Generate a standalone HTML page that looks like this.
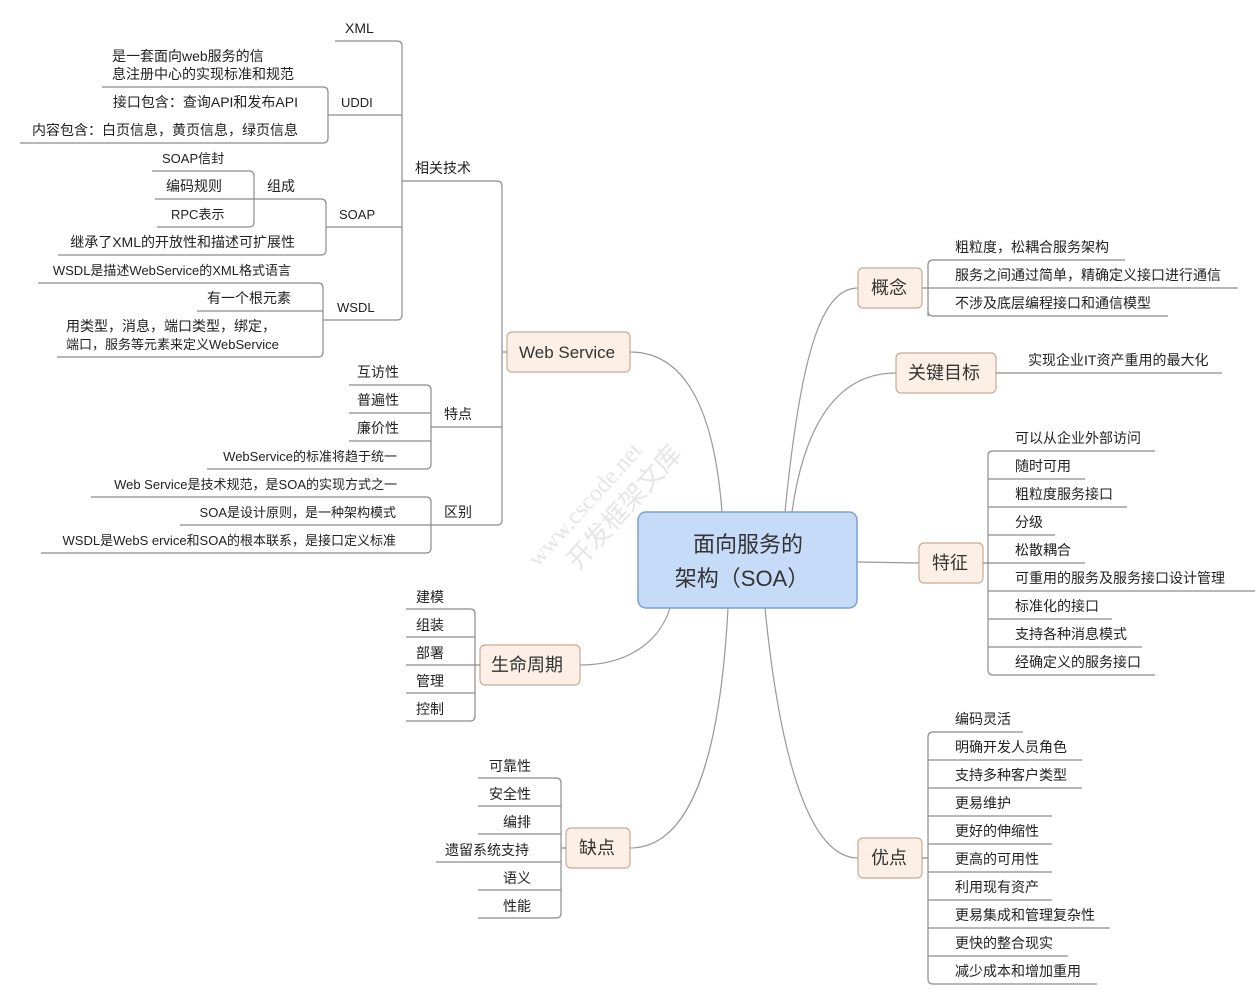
<!DOCTYPE html>
<html><head><meta charset="utf-8"><style>
html,body{margin:0;padding:0;background:#fff;width:1258px;height:1000px;overflow:hidden}
svg{display:block}
text{font-family:"Liberation Sans","Noto Sans CJK SC",sans-serif;fill:#222;font-size:14px}
.l{stroke:#8c8c8c;stroke-width:1.2;fill:none}
.c{stroke:#999;stroke-width:1.2;fill:none}
.b{fill:#fcf0e6;stroke:#c9ab94;stroke-width:1.2}
.bt{font-size:18px;fill:#333}
.e{text-anchor:end}
</style></head><body>
<svg width="1258" height="1000" viewBox="0 0 1258 1000">
<!-- watermark -->
<g transform="translate(538,568) rotate(-48)" opacity="0.25">
<text x="0" y="0" style="font-size:24px;fill:#999;font-family:'Liberation Serif',serif">www.cscode.net</text>
<text x="25" y="32" style="font-size:26px;fill:#999">开发框架文库</text>
</g>

<!-- curves from center -->
<path class="c" d="M630,352 C690,352 715,420 722,512"/>
<path class="c" d="M858,288 C820,288 800,360 785,512"/>
<path class="c" d="M896,373 C840,373 805,420 792,512"/>
<path class="c" d="M857,562 L919,563"/>
<path class="c" d="M858,858 C810,858 780,760 765,608"/>
<path class="c" d="M580,665 C630,665 660,640 670,608"/>
<path class="c" d="M630,848 C690,848 720,760 728,608"/>

<!-- center -->
<rect x="638" y="512" width="219" height="96" rx="8" fill="#c6dbf8" stroke="#7c9fd2" stroke-width="1.5"/>
<text x="748" y="552" text-anchor="middle" style="font-size:22px;fill:#333">面向服务的</text>
<text x="742" y="586" text-anchor="middle" style="font-size:22px;fill:#333">架构（SOA）</text>

<!-- 概念 -->
<rect class="b" x="858" y="268" width="64" height="40" rx="5"/>
<text class="bt" x="871" y="294">概念</text>
<path class="l" d="M922,288 H928 M928,316 V265 Q928,260 933,260 H1125 M928,288 H1238 M928,311 Q928,316 933,316 H1168"/>
<text x="955" y="252">粗粒度，松耦合服务架构</text>
<text x="955" y="280">服务之间通过简单，精确定义接口进行通信</text>
<text x="955" y="308">不涉及底层编程接口和通信模型</text>

<!-- 关键目标 -->
<rect class="b" x="896" y="353" width="100" height="40" rx="5"/>
<text class="bt" x="908" y="379">关键目标</text>
<path class="l" d="M996,373 H1222"/>
<text x="1028" y="365">实现企业IT资产重用的最大化</text>

<!-- 特征 -->
<rect class="b" x="919" y="543" width="64" height="40" rx="5"/>
<text class="bt" x="932" y="569">特征</text>
<path class="l" d="M983,563 H988 M988,670 V456 Q988,451 993,451 H1155 M988,479 H1085 M988,507 H1127 M988,535 H1055 M988,563 H1085 M988,591 H1255 M988,619 H1112 M988,647 H1142 M988,670 Q988,675 993,675 H1155"/>
<text x="1015" y="443">可以从企业外部访问</text>
<text x="1015" y="471">随时可用</text>
<text x="1015" y="499">粗粒度服务接口</text>
<text x="1015" y="527">分级</text>
<text x="1015" y="555">松散耦合</text>
<text x="1015" y="583">可重用的服务及服务接口设计管理</text>
<text x="1015" y="611">标准化的接口</text>
<text x="1015" y="639">支持各种消息模式</text>
<text x="1015" y="667">经确定义的服务接口</text>

<!-- 优点 -->
<rect class="b" x="858" y="838" width="64" height="40" rx="5"/>
<text class="bt" x="871" y="864">优点</text>
<path class="l" d="M922,858 H928 M928,979 V737 Q928,732 933,732 H1023 M928,760 H1082 M928,788 H1082 M928,816 H1052 M928,844 H1052 M928,872 H1052 M928,900 H1052 M928,928 H1110 M928,956 H1068 M928,979 Q928,984 933,984 H1097"/>
<text x="955" y="724">编码灵活</text>
<text x="955" y="752">明确开发人员角色</text>
<text x="955" y="780">支持多种客户类型</text>
<text x="955" y="808">更易维护</text>
<text x="955" y="836">更好的伸缩性</text>
<text x="955" y="864">更高的可用性</text>
<text x="955" y="892">利用现有资产</text>
<text x="955" y="920">更易集成和管理复杂性</text>
<text x="955" y="948">更快的整合现实</text>
<text x="955" y="976">减少成本和增加重用</text>

<!-- Web Service -->
<rect class="b" x="507" y="332" width="123" height="40" rx="5"/>
<text class="bt" x="519" y="358" style="font-size:17px">Web Service</text>
<path class="l" d="M507,352 H502 M502,186 Q502,181 497,181 H402 M502,186 V520 Q502,525 497,525 H431 M502,427 H431"/>
<text x="415" y="173">相关技术</text>
<text x="444" y="419">特点</text>
<text x="444" y="517">区别</text>

<!-- 相关技术 bracket -->
<path class="l" d="M402,181 V46 Q402,41 397,41 H335 M402,115 H328 M402,227 H326 M402,181 V315 Q402,320 397,320 H323"/>
<text x="345" y="33">XML</text>
<text x="341" y="107" style="font-size:13px">UDDI</text>
<text x="339" y="219" style="font-size:13px">SOAP</text>
<text x="337" y="312" style="font-size:13px">WSDL</text>

<!-- UDDI -->
<path class="l" d="M328,115 V92 Q328,87 323,87 H102 M328,115 V138 Q328,143 323,143 H20"/>
<text x="112" y="61">是一套面向web服务的信</text>
<text x="112" y="79">息注册中心的实现标准和规范</text>
<text x="298" y="107" class="e">接口包含：查询API和发布API</text>
<text x="298" y="135" class="e">内容包含：白页信息，黄页信息，绿页信息</text>

<!-- SOAP -->
<path class="l" d="M326,227 V204 Q326,199 321,199 H254 M326,227 V250 Q326,255 321,255 H58"/>
<text x="267" y="191">组成</text>
<text x="295" y="247" class="e">继承了XML的开放性和描述可扩展性</text>
<path class="l" d="M254,199 V176 Q254,171 249,171 H152 M254,199 H155 M254,199 V222 Q254,227 249,227 H157"/>
<text x="162" y="163" style="font-size:13px">SOAP信封</text>
<text x="166" y="191">编码规则</text>
<text x="171" y="219" style="font-size:13px">RPC表示</text>

<!-- WSDL -->
<path class="l" d="M323,320 V288 Q323,283 318,283 H38 M323,311 H197 M323,320 V352 Q323,357 318,357 H57"/>
<text x="291" y="275" class="e" style="font-size:13px">WSDL是描述WebService的XML格式语言</text>
<text x="291" y="303" class="e">有一个根元素</text>
<text x="66" y="331">用类型，消息，端口类型，绑定，</text>
<text x="66" y="349" style="font-size:13px">端口，服务等元素来定义WebService</text>

<!-- 特点 -->
<path class="l" d="M431,427 V390 Q431,385 426,385 H349 M431,413 H349 M431,441 H349 M431,427 V464 Q431,469 426,469 H207"/>
<text x="399" y="377" class="e">互访性</text>
<text x="399" y="405" class="e">普遍性</text>
<text x="399" y="433" class="e">廉价性</text>
<text x="397" y="461" class="e" style="font-size:13px">WebService的标准将趋于统一</text>

<!-- 区别 -->
<path class="l" d="M431,525 V502 Q431,497 426,497 H91 M431,525 H180 M431,525 V548 Q431,553 426,553 H41"/>
<text x="397" y="489" class="e" style="font-size:13px">Web Service是技术规范，是SOA的实现方式之一</text>
<text x="396" y="517" class="e" style="font-size:13px">SOA是设计原则，是一种架构模式</text>
<text x="396" y="545" class="e" style="font-size:13px">WSDL是WebS ervice和SOA的根本联系，是接口定义标准</text>

<!-- 生命周期 -->
<rect class="b" x="480" y="645" width="100" height="40" rx="5"/>
<text class="bt" x="491" y="671">生命周期</text>
<path class="l" d="M480,665 H475 M475,665 V614 Q475,609 470,609 H406 M475,637 H406 M475,665 H406 M475,693 H406 M475,665 V716 Q475,721 470,721 H406"/>
<text x="416" y="602">建模</text>
<text x="416" y="630">组装</text>
<text x="416" y="658">部署</text>
<text x="416" y="686">管理</text>
<text x="416" y="714">控制</text>

<!-- 缺点 -->
<rect class="b" x="566" y="828" width="64" height="40" rx="5"/>
<text class="bt" x="579" y="854">缺点</text>
<path class="l" d="M566,848 H561 M561,848 V783 Q561,778 556,778 H478 M561,806 H478 M561,834 H478 M561,862 H436 M561,890 H478 M561,848 V913 Q561,918 556,918 H478"/>
<text x="531" y="771" class="e">可靠性</text>
<text x="531" y="799" class="e">安全性</text>
<text x="531" y="827" class="e">编排</text>
<text x="529" y="855" class="e">遗留系统支持</text>
<text x="531" y="883" class="e">语义</text>
<text x="531" y="911" class="e">性能</text>
</svg>
</body></html>
